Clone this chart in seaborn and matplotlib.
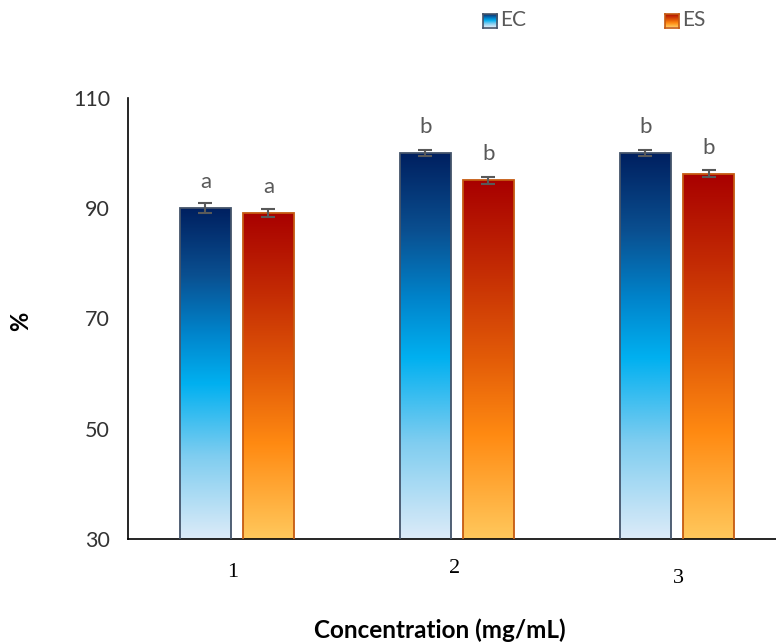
import numpy as np
import pandas as pd
import matplotlib
matplotlib.use("Agg")
import matplotlib.pyplot as plt
import seaborn as sns
from matplotlib.colors import LinearSegmentedColormap
from matplotlib.transforms import blended_transform_factory

# ---- data ----
categories = ["1", "2", "3"]
series = ["EC", "ES"]
ec_values = [90.0, 100.0, 100.0]
es_values = [89.2, 95.1, 96.3]
ec_errors = [0.9, 0.5, 0.5]
es_errors = [0.75, 0.65, 0.7]
ec_letters = ["a", "b", "b"]
es_letters = ["a", "b", "b"]
y_ticks = [30, 50, 70, 90, 110]
x_label = "Concentration (mg/mL)"
y_label = "%"

df = pd.DataFrame({
    "conc": categories * 2,
    "series": [series[0]] * 3 + [series[1]] * 3,
    "value": ec_values + es_values,
})

sns.set_style("white")
plt.rcParams["font.family"] = ["Lato", "DejaVu Sans"]

fig = plt.figure(figsize=(7.76, 6.44), dpi=100)
ax = fig.add_axes([128 / 776, 1 - 539 / 644, 1 - 128 / 776, (539 - 98) / 644])

sns.barplot(data=df, x="conc", y="value", hue="series", order=categories,
            hue_order=series, width=0.573, gap=0.2, errorbar=None,
            legend=False, ax=ax, palette=["#00b0f0", "#ff8a12"])

ec_cmap = LinearSegmentedColormap.from_list(
    "ec", [(0.0, "#dcebf8"), (0.25, "#7fcdf0"), (0.47, "#00b0f0"),
           (0.62, "#0085cc"), (0.8, "#0a4f90"), (1.0, "#002060")])
es_cmap = LinearSegmentedColormap.from_list(
    "es", [(0.0, "#ffc85c"), (0.29, "#ff8a12"), (0.5, "#e35c08"),
           (0.75, "#c42c04"), (1.0, "#a80000")])

grad = np.linspace(0, 1, 256).reshape(-1, 1)
vals_all = ec_values + es_values
errs_all = ec_errors + es_errors
letters_all = ec_letters + es_letters
patches = list(ax.patches)
for i, p in enumerate(patches):
    is_ec = i < 3
    cmap = ec_cmap if is_ec else es_cmap
    edge = "#44546a" if is_ec else "#c55a11"
    x0, w = p.get_x(), p.get_width()
    y0, h = p.get_y(), p.get_height()
    ylo = 30
    im = ax.imshow(grad, cmap=cmap, origin="lower", aspect="auto",
                   extent=[x0, x0 + w, ylo, y0 + h], zorder=2,
                   interpolation="bicubic")
    p.set_facecolor("none")
    p.set_edgecolor(edge)
    p.set_linewidth(1.3)
    p.set_zorder(3)
    im.set_clip_path(p)
    xc = x0 + w / 2
    ax.errorbar(xc, vals_all[i], yerr=errs_all[i], color="#595959",
                capsize=5, elinewidth=1.5, capthick=1.5, zorder=4, fmt="none")
    ax.text(xc, vals_all[i] + 2.9, letters_all[i], ha="center", va="bottom",
            fontsize=16, color="#595959")

ax.set_xlim(-0.495, 2.45)
ax.set_ylim(30, 110)
ax.set_yticks(y_ticks)
ax.set_yticklabels([str(t) for t in y_ticks], fontsize=15.5, color="#333333")
ax.tick_params(axis="y", length=0, pad=13)
ax.set_xticks([])
ax.set_xlabel("")
ax.set_ylabel("")
for s in ["top", "right"]:
    ax.spines[s].set_visible(False)
for s in ["left", "bottom"]:
    ax.spines[s].set_color("black")
    ax.spines[s].set_linewidth(1.2)

# x tick labels (serif, slightly staggered like the original)
trans = blended_transform_factory(ax.transData, ax.transAxes)
label_y = [-0.077, -0.068, -0.09]
label_dx = [-0.02, -0.01, 0.005]
for i, c in enumerate(categories):
    ax.text(i + label_dx[i], label_y[i], c, transform=trans, ha="center", va="center",
            fontsize=16, family="Liberation Serif", color="black")

fig.text(440 / 776, 1 - 630 / 644, x_label, ha="center", va="center",
         fontsize=17.5, fontweight="bold", color="black")
fig.text(21 / 776, 1 - 321 / 644, y_label, ha="center", va="center",
         fontsize=17, fontweight="bold", rotation=90, color="black")

# legend with gradient squares
leg_items = [("EC", ec_cmap, "#44546a", 483), ("ES", es_cmap, "#c55a11", 665)]
for name, cmap, edge, px in leg_items:
    lax = fig.add_axes([px / 776, 1 - 27.5 / 644, 14 / 776, 14 / 644])
    lax.imshow(grad, cmap=cmap, origin="lower", aspect="auto",
               extent=[0, 1, 0, 1], interpolation="bicubic")
    lax.set_xticks([])
    lax.set_yticks([])
    for s in lax.spines.values():
        s.set_color(edge)
        s.set_linewidth(1.2)
    fig.text((px + 17) / 776, 1 - 20 / 644, name, ha="left", va="center",
             fontsize=15, color="#595959")

fig.savefig("out.png", dpi=100)
